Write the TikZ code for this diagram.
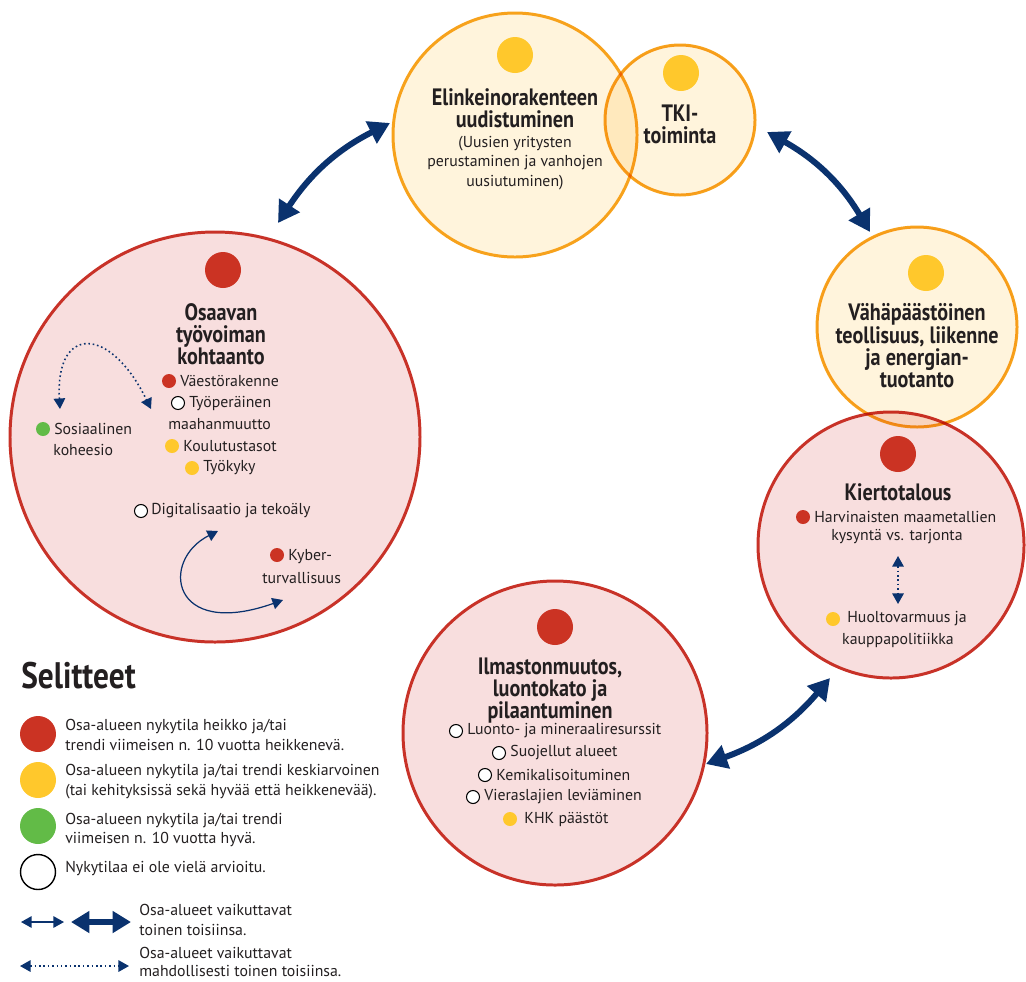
\documentclass[tikz,border=0pt]{standalone}
\usepackage{fontspec}
\setmainfont{PT Sans}
\newfontfamily\narrowfont{PT Sans}[FakeStretch=0.85]
\usetikzlibrary{arrows.meta,positioning}

\definecolor{navy}{RGB}{10,50,110}
\definecolor{ink}{RGB}{35,31,32}
\definecolor{circred}{RGB}{200,50,40}
\definecolor{dotred}{RGB}{203,51,35}
\definecolor{pinkfill}{RGB}{248,222,222}
\definecolor{orangeline}{RGB}{247,162,28}
\definecolor{yelfill}{RGB}{255,244,220}
\definecolor{dotyel}{RGB}{255,200,44}
\definecolor{dotgreen}{RGB}{98,187,71}

\newcommand{\upx}{0.02cm}

\begin{document}
\begin{tikzpicture}[x=\upx, y=-\upx,
  redarea/.style={circle, draw=circred, line width=1.7pt, fill=pinkfill, minimum size=#1*\upx, inner sep=0pt},
  yelarea/.style={circle, draw=orangeline, line width=1.7pt, fill=yelfill, minimum size=#1*\upx, inner sep=0pt},
  bigdot/.style={circle, fill=#1, minimum size=36*\upx, inner sep=0pt},
  dot/.style={circle, fill=#1, minimum size=14*\upx, inner sep=0pt},
  opendot/.style={circle, draw=black, line width=0.6pt, fill=white, minimum size=13*\upx, inner sep=0pt},
  title/.style={font=\narrowfont\bfseries\fontsize{13.5}{12.7}\selectfont, align=center, text=ink, inner sep=0pt},
  item/.style={font=\fontsize{9}{11.3}\selectfont, text=ink, inner sep=0pt, anchor=west},
  line/.style={font=\fontsize{9}{11.3}\selectfont, text=ink, inner sep=0pt},
  bigarrow/.style={draw=navy, line width=3.4pt, {Triangle[length=12pt,width=13.5pt]}-{Triangle[length=12pt,width=13.5pt]}},
  thinarrow/.style={draw=navy, line width=0.7pt, {Triangle[length=6pt,width=6.5pt]}-{Triangle[length=6pt,width=6.5pt]}},
  dotarrow/.style={thinarrow, line width=0.9pt, dash pattern=on 0.9pt off 1.6pt}]

\useasboundingbox (0,0) rectangle (1026,981);

% alueet
\node[yelarea=244] (1) at (515,135) {};
\begin{scope}[blend mode=multiply]
\node[yelarea=150] (2) at (680,120) {};
\end{scope}
\node[redarea=410] (3) at (215,437) {};
\node[redarea=266] (5) at (891,545) {};
\begin{scope}[blend mode=multiply]
\node[yelarea=200] (4) at (917,327) {};
\end{scope}
\node[redarea=304] (6) at (555,733) {};

% elinkeinorakenne ja TKI
\node[bigdot=dotyel] (1d) at (515,55) {};
\node[title] (1t) at (515,108.5) {Elinkeinorakenteen\\uudistuminen};
\node[line, align=center] (1s) at (515,163) {(Uusien yritysten\\perustaminen ja vanhojen\\uusiutuminen)};
\node[bigdot=dotyel] (2d) at (681,73) {};
\node[title] (2t) at (680,124.5) {TKI-\\toiminta};

% osaava työvoima
\node[bigdot=dotred] (3d) at (223,270) {};
\node[title] (3t) at (221,334) {Osaavan\\työvoiman\\kohtaanto};
\node[dot=dotred] (3a) at (169,381) {};
\node[item] at (180,381) {Väestörakenne};
\node[opendot] (3b) at (178,403) {};
\node[item] at (189,404) {Työperäinen};
\node[item] at (168,424) {maahanmuutto};
\node[dot=dotyel] (3c) at (172,446) {};
\node[item] at (183,446) {Koulutustasot};
\node[dot=dotyel] (3e) at (192,468) {};
\node[item] at (203,468) {Työkyky};
\node[dot=dotgreen] (3f) at (43,429) {};
\node[item] at (54,429) {Sosiaalinen};
\node[item] at (53,450) {koheesio};
\node[opendot] (3g) at (141,511) {};
\node[item] at (151,511) {Digitalisaatio ja tekoäly};
\node[dot=dotred] (3h) at (277,555) {};
\node[item] at (288,557) {Kyber-};
\node[item] at (262,578) {turvallisuus};

\coordinate (d1) at (60,409);
\coordinate (d2) at (151,409);
\draw[dotarrow] (d1) .. controls (55,325) and (110,325) .. (d2);
\coordinate (e1) at (218,531);
\coordinate (e2) at (283,600);
\draw[thinarrow] (e1) .. controls (160,560) and (170,640) .. (e2);

% vähäpäästöinen
\node[bigdot=dotyel] (4d) at (926,273) {};
\node[title] (4t) at (917,346) {Vähäpäästöinen\\teollisuus, liikenne\\ja energian-\\tuotanto};

% kiertotalous
\node[bigdot=dotred] (5d) at (898,454) {};
\node[title] (5t) at (898,492) {Kiertotalous};
\node[dot=dotred] (5a) at (803,517) {};
\node[item] at (814,517) {Harvinaisten maametallien};
\node[line] at (897,537) {kysyntä vs. tarjonta};
\node[dot=dotyel] (5b) at (833,619) {};
\node[item] at (847,619) {Huoltovarmuus ja};
\node[line] at (898,640) {kauppapolitiikka};
\coordinate (k1) at (898,556);
\coordinate (k2) at (898,604);
\draw[dotarrow] (k1) -- (k2);

% ilmasto
\node[bigdot=dotred] (6d) at (555,627) {};
\node[title] (6t) at (550,690.5) {Ilmastonmuutos,\\luontokato ja\\pilaantuminen};
\node[opendot] (6a) at (456,731) {};
\node[item] at (467,731) {Luonto- ja mineraaliresurssit};
\node[opendot] (6b) at (499,753) {};
\node[item] at (510,753) {Suojellut alueet};
\node[opendot] (6c) at (485,775) {};
\node[item] at (496,775) {Kemikalisoituminen};
\node[opendot] (6e) at (473,797) {};
\node[item] at (484,797) {Vieraslajien leviäminen};
\node[dot=dotyel] (6f) at (510,819) {};
\node[item] at (524,819) {KHK päästöt};

% vaikutukset
\coordinate (a1) at (278,223);
\coordinate (a2) at (390,123);
\draw[bigarrow] (a1) to[bend left=15] (a2);
\coordinate (b1) at (767,132);
\coordinate (b2) at (870,232);
\draw[bigarrow] (b1) to[bend left=15] (b2);
\coordinate (c1) at (830,678);
\coordinate (c2) at (706,764);
\draw[bigarrow] (c1) to[bend left=15] (c2);

% selitteet
\node[font=\narrowfont\bfseries\fontsize{21}{22}\selectfont, text=ink, inner sep=0pt, anchor=west] (s) at (21,676) {Selitteet};
\node[bigdot=dotred] (s1) at (38,734) {};
\node[item, align=left] at (65,735) {Osa-alueen nykytila heikko ja/tai\\trendi viimeisen n. 10 vuotta heikkenevä.};
\node[bigdot=dotyel] (s2) at (38,780) {};
\node[item, align=left] at (65,782) {Osa-alueen nykytila ja/tai trendi keskiarvoinen\\(tai kehityksissä sekä hyvää että heikkenevää).};
\node[bigdot=dotgreen] (s3) at (38,826) {};
\node[item, align=left] at (65,830) {Osa-alueen nykytila ja/tai trendi\\viimeisen n. 10 vuotta hyvä.};
\node[circle, draw=black, line width=0.8pt, minimum size=35*\upx, inner sep=0pt] (s4) at (38,872) {};
\node[item] at (65,868) {Nykytilaa ei ole vielä arvioitu.};
\coordinate (l1) at (21,922);
\coordinate (l2) at (64,922);
\draw[thinarrow] (l1) -- (l2);
\coordinate (l3) at (71,922);
\coordinate (l4) at (131,922);
\draw[draw=navy, line width=3pt, {Triangle[length=10.5pt,width=12pt]}-{Triangle[length=10.5pt,width=12pt]}] (l3) -- (l4);
\node[item, align=left] at (139,920) {Osa-alueet vaikuttavat\\toinen toisiinsa.};
\coordinate (l5) at (20,966);
\coordinate (l6) at (129,966);
\draw[dotarrow] (l5) -- (l6);
\node[item, align=left, font=\fontsize{9}{10.4}\selectfont] at (139,962) {Osa-alueet vaikuttavat\\mahdollisesti toinen toisiinsa.};

\end{tikzpicture}
\end{document}
